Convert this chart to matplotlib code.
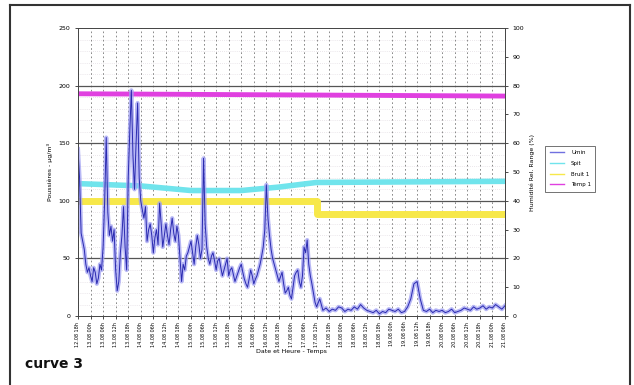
import numpy as np
import matplotlib
matplotlib.use("Agg")
import matplotlib.pyplot as plt
from matplotlib.lines import Line2D

# mesure principale : partie agitée (8 points par graduation, t 0 -> 19)
mesure_debut = [145, 120, 72, 65, 58, 45, 38, 42,
                35, 30, 42, 38, 28, 33, 45, 40,
                60, 100, 155, 90, 70, 78, 65, 75,
                40, 22, 30, 55, 70, 95, 60, 40,
                120, 160, 196, 140, 110, 150, 185, 120,
                100, 92, 85, 95, 65, 75, 80, 70,
                55, 68, 75, 62, 98, 80, 60, 70,
                80, 70, 62, 75, 85, 72, 65, 78,
                70, 50, 30, 45, 40, 52, 55, 60,
                65, 55, 45, 60, 70, 62, 50, 58,
                137, 80, 60, 50, 45, 52, 55, 48,
                40, 48, 50, 42, 35, 40, 45, 50,
                35, 40, 42, 36, 30, 34, 38, 42,
                45, 38, 32, 28, 25, 32, 40, 35,
                28, 32, 35, 40, 45, 52, 60, 75,
                114, 85, 70, 58, 50, 45, 40, 35,
                30, 34, 38, 28, 20, 22, 25, 18,
                15, 25, 35, 38, 40, 30, 25, 35,
                60, 55, 66, 45, 35, 28, 20, 12]

# partie calme (4 points par graduation, t 19 -> 34)
mesure_fin = [8, 15, 5, 7,
              4, 6, 5, 8,
              7, 4, 6, 5,
              8, 6, 10, 7,
              5, 4, 3, 5,
              2, 4, 3, 6,
              5, 4, 6, 3,
              4, 8, 15, 28,
              30, 15, 5, 4,
              6, 3, 5, 4,
              5, 3, 4, 6,
              3, 4, 5, 7,
              6, 5, 8, 6,
              7, 9, 6, 8,
              7, 10, 8, 6,
              9]

cyan_x = [0, 5, 9, 13, 16, 19, 34]
cyan_y = [115, 113, 109, 109, 112, 116, 117]

jaune_x = [0, 19, 19, 34]
jaune_y = [100, 100, 89, 89]

magenta_x = [0, 34]
magenta_y = [193, 191]

dates = ["12.08 18h", "13.08 00h", "13.08 06h", "13.08 12h", "13.08 18h",
         "14.08 00h", "14.08 06h", "14.08 12h", "14.08 18h", "15.08 00h",
         "15.08 06h", "15.08 12h", "15.08 18h", "16.08 00h", "16.08 06h",
         "16.08 12h", "16.08 18h", "17.08 00h", "17.08 06h", "17.08 12h",
         "17.08 18h", "18.08 00h", "18.08 06h", "18.08 12h", "18.08 18h",
         "19.08 00h", "19.08 06h", "19.08 12h", "19.08 18h", "20.08 00h",
         "20.08 06h", "20.08 12h", "20.08 18h", "21.08 00h", "21.08 06h"]

noms_legende = ["Umin", "Spit", "Bruit 1", "Temp 1"]

t_debut = np.arange(len(mesure_debut)) * 0.125
t_fin = 19 + np.arange(len(mesure_fin)) * 0.25
t = np.concatenate([t_debut, t_fin])
mesure = np.array(mesure_debut + mesure_fin)

fig = plt.figure(figsize=(6.34, 3.85), dpi=100)
ax = fig.add_axes([0.123, 0.179, 0.6735, 0.748])

# grille : mineure en pointillés, majeure foncée
for v in np.arange(0, 251, 10):
    ax.axhline(v, color="#d8d0d8", lw=0.5, ls=(0, (1, 2)), zorder=0)
for v in [50, 100, 150, 200]:
    ax.axhline(v, color="#555555", lw=0.9, zorder=1)
for k in range(len(dates)):
    ax.axvline(k, color="#777777", lw=0.6, ls=(0, (2, 3)), zorder=0)

ax.plot(magenta_x, magenta_y, color="#e040e0", lw=3.5, zorder=2)
ax.plot(cyan_x, cyan_y, color="#70e4ec", lw=4, zorder=2)
ax.plot(jaune_x, jaune_y, color="#f7e84a", lw=5, zorder=2)

ax.plot(t, mesure, color="#a0a0f2", lw=3, alpha=0.75, zorder=3)
ax.plot(t, mesure, color="#2a2ab0", lw=0.7, zorder=4)

ax.set_xlim(0, len(dates) - 1)
ax.set_ylim(0, 250)
ax.set_yticks(np.arange(0, 251, 50))
ax.tick_params(axis="y", labelsize=4.5, length=2, width=0.5)
ax.set_xticks(range(len(dates)))
ax.set_xticklabels(dates, rotation=90, fontsize=3.5)
ax.tick_params(axis="x", length=2, width=0.5, pad=2)
for s in ax.spines.values():
    s.set_linewidth(0.6)
    s.set_color("#444444")
ax.set_ylabel("Poussières - µg/m³", fontsize=4.5, labelpad=4)
ax.set_xlabel("Date et Heure - Temps", fontsize=4.5, labelpad=2)

ax2 = ax.twinx()
ax2.set_ylim(0, 100)
ax2.set_yticks(np.arange(0, 101, 10))
ax2.tick_params(axis="y", labelsize=4.5, length=2, width=0.5)
ax2.set_ylabel("Humidité Rel. Range (%)", fontsize=4.5, labelpad=4)
for s in ax2.spines.values():
    s.set_linewidth(0.6)
    s.set_color("#444444")

poignees = [Line2D([], [], color="#7070e0", lw=1),
            Line2D([], [], color="#70e4ec", lw=1),
            Line2D([], [], color="#f7e84a", lw=1),
            Line2D([], [], color="#e040e0", lw=1)]
leg = fig.legend(poignees, noms_legende, loc="upper left",
                 bbox_to_anchor=(0.856, 0.628), fontsize=4, frameon=True,
                 fancybox=False, handlelength=2.6, borderpad=0.8,
                 labelspacing=1.0, handletextpad=1.2)
leg.get_frame().set_edgecolor("#333333")
leg.get_frame().set_linewidth(0.6)

# cadre de la page
fig.add_artist(Line2D([0.016, 0.016], [0, 0.987], color="#333333", lw=1.5))
fig.add_artist(Line2D([0.016, 0.994], [0.987, 0.987], color="#333333", lw=1.5))
fig.add_artist(Line2D([0.994, 0.994], [0, 0.987], color="#333333", lw=1.5))

fig.text(0.04, 0.045, "curve 3", fontsize=10, fontweight="bold",
         family="Liberation Sans Narrow", color="#111111")

fig.savefig("out.png", dpi=100)
